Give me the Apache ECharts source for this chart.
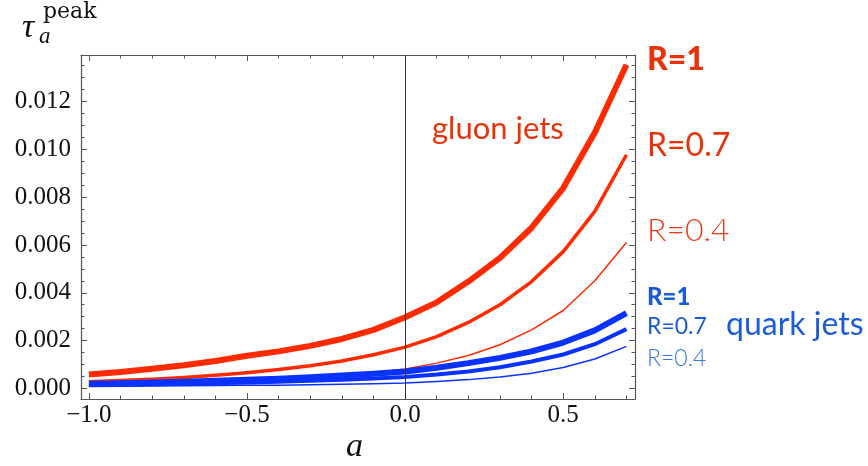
<!DOCTYPE html>
<html>
<head>
<meta charset="utf-8">
<script src="https://cdn.jsdelivr.net/npm/echarts@6/dist/echarts.min.js"></script>
<style>html,body{margin:0;padding:0;background:#fff}#c{width:868px;height:466px}</style>
</head>
<body>
<div id="c"></div>
<script>
// ---- data ----
const aValues = [-1.0,-0.9,-0.8,-0.7,-0.6,-0.5,-0.4,-0.3,-0.2,-0.1,0.0,0.1,0.2,0.3,0.4,0.5,0.6,0.7];
const gluonR1  = [0.00058,0.00069,0.00082,0.00097,0.00115,0.00137,0.00155,0.00178,0.00207,0.00245,0.00298,0.0036,0.00447,0.00546,0.00672,0.00838,0.0107,0.01353];
const gluonR07 = [0.00028,0.00033,0.00039,0.00046,0.00055,0.00066,0.00079,0.00095,0.00115,0.00141,0.00173,0.00217,0.00276,0.0035,0.00447,0.00572,0.0074,0.00977];
const gluonR04 = [0.00013,0.000155,0.00018,0.00022,0.00026,0.00031,0.00037,0.00045,0.00054,0.00066,0.00081,0.00106,0.00138,0.00183,0.00245,0.00326,0.0045,0.0061];
const quarkR1  = [0.0002,0.00022,0.00025,0.00028,0.00032,0.00036,0.00041,0.00047,0.00054,0.00062,0.00071,0.00087,0.00106,0.00128,0.00155,0.00192,0.00243,0.00315];
const quarkR07 = [0.00014,0.00016,0.00018,0.0002,0.00022,0.00025,0.00028,0.00032,0.00036,0.00042,0.00048,0.00058,0.00071,0.00089,0.00113,0.00142,0.00185,0.00248];
const quarkR04 = [0.00008,0.00009,0.0001,0.00011,0.00012,0.00013,0.00014,0.00016,0.00018,0.0002,0.00023,0.00029,0.00037,0.00048,0.00064,0.00088,0.00123,0.00176];

const xMajorTicks = [-1.0,-0.5,0.0,0.5];
const xMinorTicks = [-0.9,-0.8,-0.7,-0.6,-0.4,-0.3,-0.2,-0.1,0.1,0.2,0.3,0.4,0.6,0.7];
const yMajorTicks = [0,0.002,0.004,0.006,0.008,0.010,0.012];
const yMinorTicks = [0.0005,0.001,0.0015,0.0025,0.003,0.0035,0.0045,0.005,0.0055,0.0065,0.007,0.0075,0.0085,0.009,0.0095,0.0105,0.011,0.0115,0.0125,0.013,0.0135];

const X_MIN = -1.025, X_MAX = 0.727, Y_MIN = -0.00044, Y_MAX = 0.01394;

// ---- chart ----
const chart = echarts.init(document.getElementById('c'), null, {renderer:'canvas'});
const frame = '#555';
const serif = '"Liberation Serif", "DejaVu Serif", serif';
const sans = 'Lato, "Open Sans", sans-serif';

function xAx(pos, ticks, len, showLabel, showLine){
  return {
    type:'value', position:pos, min:X_MIN, max:X_MAX, gridIndex:0,
    axisLine:{show:showLine, onZero:false, lineStyle:{color:frame, width:1.2}},
    axisTick:{show:true, inside:true, length:len, customValues:ticks, lineStyle:{color:frame, width:1}},
    axisLabel:{show:showLabel, customValues:ticks, margin:4, color:'#111', fontFamily:serif, fontSize:25,
      formatter:v => (v<0?'\u2212':'') + Math.abs(v).toFixed(1)},
    splitLine:{show:false}
  };
}
function yAx(pos, ticks, len, showLabel, showLine){
  return {
    type:'value', position:pos, min:Y_MIN, max:Y_MAX, gridIndex:0,
    axisLine:{show:showLine, onZero:false, lineStyle:{color:frame, width:1.2}},
    axisTick:{show:true, inside:true, length:len, customValues:ticks, lineStyle:{color:frame, width:1}},
    axisLabel:{show:showLabel, customValues:ticks, margin:10, color:'#111', fontFamily:serif, fontSize:25,
      formatter:v => v.toFixed(3)},
    splitLine:{show:false}
  };
}

const red = '#ff2a00', blue = '#0a32ff';
function line(name, data, color, width, z){
  return {name, type:'line', xAxisIndex:0, yAxisIndex:0, data:aValues.map((a,i)=>[a,data[i]]),
    showSymbol:false, symbol:'none', lineStyle:{color, width, join:'round'}, z, animation:false};
}

const option = {
  animation:false,
  grid:{left:81, right:233, top:55, bottom:67, containLabel:false},
  xAxis:[
    xAx('bottom', xMajorTicks, 6, true, true),
    xAx('bottom', xMinorTicks, 3.5, false, false),
    xAx('top', xMajorTicks, 6, false, true),
    xAx('top', xMinorTicks, 3.5, false, false)
  ],
  yAxis:[
    yAx('left', yMajorTicks, 6, true, true),
    yAx('left', yMinorTicks, 3.5, false, false),
    yAx('right', yMajorTicks, 6, false, true),
    yAx('right', yMinorTicks, 3.5, false, false)
  ],
  series:[
    {type:'line', xAxisIndex:0, yAxisIndex:0, data:[], z:1,
      markLine:{silent:true, symbol:'none', label:{show:false}, animation:false,
        lineStyle:{color:'#333', width:1, type:'solid'}, data:[{xAxis:0}]}},
    line('gluon R=1', gluonR1, red, 6, 3),
    line('gluon R=0.7', gluonR07, red, 3.5, 3),
    line('gluon R=0.4', gluonR04, red, 1.5, 3),
    line('quark R=1', quarkR1, blue, 6, 4),
    line('quark R=0.7', quarkR07, blue, 4, 4),
    line('quark R=0.4', quarkR04, blue, 1.5, 4)
  ],
  graphic:[
    {type:'text', left:22, top:11, style:{text:'\u03c4', font:'italic 34px '+serif, fill:'#111'}},
    {type:'text', left:39, top:25, style:{text:'a', font:'italic 23px '+serif, fill:'#111'}},
    {type:'text', left:43, top:1, style:{text:'peak', font:'22px "DejaVu Serif", serif', fill:'#111'}},
    {type:'text', left:346, top:430, style:{text:'a', font:'italic 34px '+serif, fill:'#111'}},
    {type:'text', left:432, top:113, style:{text:'gluon jets', font:'400 31px '+sans, fill:'#e8320a'}},
    {type:'text', left:647, top:44, style:{text:'R=1', font:'900 32px '+sans, fill:'#e8320a'}},
    {type:'text', left:647, top:130, style:{text:'R=0.7', font:'400 32px '+sans, fill:'#e8320a'}},
    {type:'text', left:647, top:215, style:{text:'R=0.4', font:'300 32px '+sans, fill:'#ec3a1a'}},
    {type:'text', left:647, top:285, style:{text:'R=1', font:'900 24px '+sans, fill:'#1a5cd8'}},
    {type:'text', left:647, top:315, style:{text:'R=0.7', font:'400 23px '+sans, fill:'#1a5cd8'}},
    {type:'text', left:647, top:347, style:{text:'R=0.4', font:'300 23px '+sans, fill:'#3578e0'}},
    {type:'text', left:726, top:309, style:{text:'quark jets', font:'400 32px '+sans, fill:'#1a5cd8'}}
  ]
};
chart.setOption(option);
</script>
</body>
</html>
